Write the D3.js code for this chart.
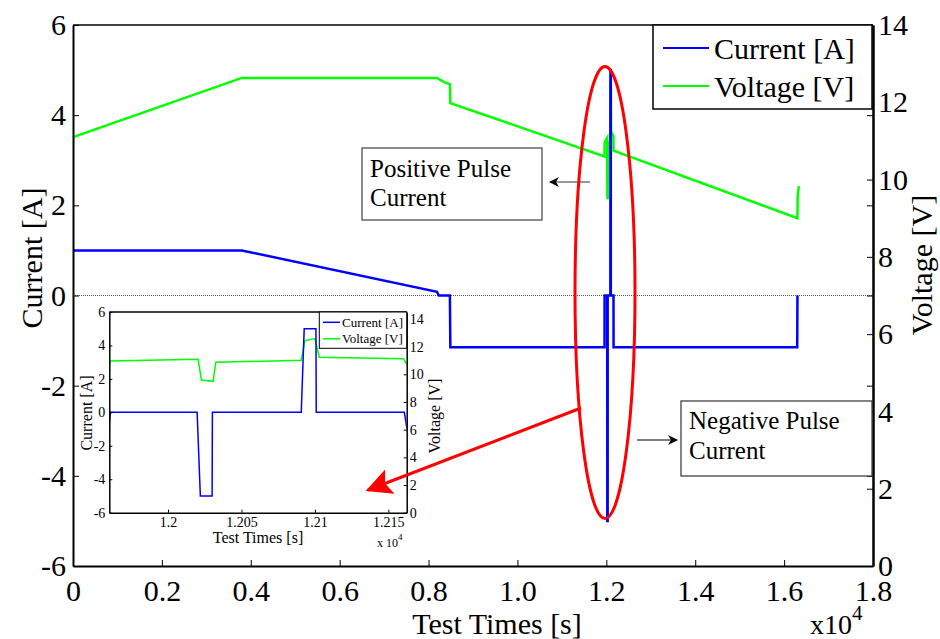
<!DOCTYPE html>
<html>
<head>
<meta charset="utf-8">
<script src="https://cdn.jsdelivr.net/npm/d3@7/dist/d3.min.js"></script>
<style>
body { margin: 0; background: #fff; }
svg text { font-family: "Liberation Serif", "Times New Roman", serif; fill: #000; }
</style>
</head>
<body>
<svg id="chart" width="940" height="639"></svg>
<script>
// time in units of 1e4 s
var currentT = [0, 0.38, 0.819, 0.823, 0.848, 0.849, 1.19595, 1.19607, 1.20198, 1.2022, 1.2030, 1.20302, 1.20907, 1.20927, 1.21007, 1.21009, 1.21609, 1.2163, 1.6295, 1.63];
var currentA = [1, 1, 0.08, 0, 0, -1.15, -1.15, 0, 0, -5, -5, 0, 0, 5, 5, 0, 0, -1.15, -1.15, 0];

var voltageT = [0, 0.38, 0.819, 0.835, 0.848, 0.849, 1.19598, 1.19607, 1.20205, 1.20227, 1.20307, 1.20325, 1.20907, 1.20932, 1.21, 1.2103, 1.21602, 1.21625, 1.63, 1.6305, 1.633];
var voltageV = [11.1, 12.63, 12.63, 12.52, 12.47, 11.98, 10.6, 10.96, 11.08, 9.59, 9.49, 10.87, 11.01, 12.43, 12.58, 11.23, 11.13, 10.75, 9.0, 9.55, 9.83];

var xTicks = [0, 0.2, 0.4, 0.6, 0.8, 1.0, 1.2, 1.4, 1.6, 1.8];
var xTickLabels = ["0", "0.2", "0.4", "0.6", "0.8", "1.0", "1.2", "1.4", "1.6", "1.8"];
var currentTicks = [-6, -4, -2, 0, 2, 4, 6];
var voltageTicks = [0, 2, 4, 6, 8, 10, 12, 14];

var insetXTicks = [1.2, 1.205, 1.21, 1.215];
var insetXTickLabels = ["1.2", "1.205", "1.21", "1.215"];

var seriesNames = ["Current [A]", "Voltage [V]"];
var seriesColors = ["#0000ff", "#00ff00"];

var serif = "'Liberation Serif', 'Times New Roman', serif";
var svg = d3.select("#chart");

var x = d3.scaleLinear().domain([0, 1.8]).range([73, 873]);
var yA = d3.scaleLinear().domain([-6, 6]).range([566, 25]);
var yV = d3.scaleLinear().domain([0, 14]).range([566, 25]);

var curData = currentT.map(function(t, i) { return [t, currentA[i]]; });
var volData = voltageT.map(function(t, i) { return [t, voltageV[i]]; });

var plain = function(d) { return String(d); };

function styleAxis(g, w, fs) {
  g.attr("font-family", serif).attr("font-size", fs || 10);
  g.select(".domain").attr("stroke", "#000").attr("stroke-width", w);
  g.selectAll(".tick line").attr("stroke", "#000").attr("stroke-width", 1);
  g.selectAll("text").style("font-family", serif);
  if (fs) g.selectAll("text").style("font-size", fs + "px");
}

// zero line
svg.append("line")
  .attr("x1", x(0)).attr("x2", x(1.8))
  .attr("y1", yA(0)).attr("y2", yA(0))
  .attr("stroke", "#555").attr("stroke-width", 1)
  .attr("stroke-dasharray", "1,1");

// main lines
var lineA = d3.line().x(function(d) { return x(d[0]); }).y(function(d) { return yA(d[1]); });
var lineV = d3.line().x(function(d) { return x(d[0]); }).y(function(d) { return yV(d[1]); });

svg.append("path").datum(volData).attr("d", lineV)
  .attr("fill", "none").attr("stroke", seriesColors[1]).attr("stroke-width", 2.5);
svg.append("path").datum(curData).attr("d", lineA)
  .attr("fill", "none").attr("stroke", seriesColors[0]).attr("stroke-width", 2.5);

// axes
var gl = svg.append("g").attr("transform", "translate(73,0)")
  .call(d3.axisLeft(yA).tickValues(currentTicks).tickSize(-6).tickSizeOuter(0).tickPadding(7).tickFormat(plain));
styleAxis(gl, 2, 30);

var gr = svg.append("g").attr("transform", "translate(873,0)")
  .call(d3.axisRight(yV).tickValues(voltageTicks).tickSize(-6).tickSizeOuter(0).tickPadding(5).tickFormat(plain));
styleAxis(gr, 2, 30);

var gr2 = svg.append("g").attr("transform", "translate(873,0)")
  .call(d3.axisRight(yA).tickValues(currentTicks).tickSize(-6).tickSizeOuter(0).tickFormat(""));
styleAxis(gr2, 2);

var gb = svg.append("g").attr("transform", "translate(0,566)")
  .call(d3.axisBottom(x).tickValues(xTicks).tickSize(-6).tickSizeOuter(0).tickPadding(14)
    .tickFormat(function(d, i) { return xTickLabels[i]; }));
styleAxis(gb, 2, 30);

svg.append("line").attr("x1", 73).attr("x2", 873).attr("y1", 25).attr("y2", 25)
  .attr("stroke", "#000").attr("stroke-width", 1.5);

// axis titles
svg.append("text").attr("x", 497).attr("y", 634).attr("text-anchor", "middle")
  .style("font-size", "30px").text("Test Times [s]");
var xe = svg.append("text").attr("x", 810).attr("y", 634).style("font-size", "28px");
xe.append("tspan").text("x10");
xe.append("tspan").attr("dy", -14).style("font-size", "21px").text("4");
svg.append("text").attr("transform", "translate(42,258) rotate(-90)").attr("text-anchor", "middle")
  .style("font-size", "30px").text("Current [A]");
svg.append("text").attr("transform", "translate(932,265) rotate(-90)").attr("text-anchor", "middle")
  .style("font-size", "30px").text("Voltage [V]");

// legend
var leg = svg.append("g");
leg.append("rect").attr("x", 653).attr("y", 25).attr("width", 219).attr("height", 84)
  .attr("fill", "#fff").attr("stroke", "#000").attr("stroke-width", 1.5);
seriesNames.forEach(function(n, i) {
  var yy = 48 + i * 38;
  leg.append("line").attr("x1", 663).attr("x2", 709).attr("y1", yy).attr("y2", yy)
    .attr("stroke", seriesColors[i]).attr("stroke-width", 2);
  leg.append("text").attr("x", 714).attr("y", yy + 11).style("font-size", "30px").text(n);
});

// callouts
var defs = svg.append("defs");
defs.append("marker").attr("id", "blk").attr("viewBox", "0 0 10 10").attr("refX", 9).attr("refY", 5)
  .attr("markerWidth", 12).attr("markerHeight", 10).attr("markerUnits", "userSpaceOnUse").attr("orient", "auto")
  .append("path").attr("d", "M0,0 L10,5 L0,10 L3,5 Z").attr("fill", "#000");
defs.append("marker").attr("id", "red").attr("viewBox", "0 0 10 10").attr("refX", 9).attr("refY", 5)
  .attr("markerWidth", 32).attr("markerHeight", 26).attr("markerUnits", "userSpaceOnUse").attr("orient", "auto")
  .append("path").attr("d", "M0,0 L10,5 L0,10 L2,5 Z").attr("fill", "#ff0000");

svg.append("rect").attr("x", 362).attr("y", 148).attr("width", 180).attr("height", 72)
  .attr("fill", "#fff").attr("stroke", "#666").attr("stroke-width", 1.5);
svg.append("text").attr("x", 370).attr("y", 177).style("font-size", "25px").text("Positive Pulse");
svg.append("text").attr("x", 370).attr("y", 206).style("font-size", "25px").text("Current");
svg.append("line").attr("x1", 590).attr("y1", 182).attr("x2", 550).attr("y2", 182)
  .attr("stroke", "#333").attr("stroke-width", 1).attr("marker-end", "url(#blk)");

svg.append("rect").attr("x", 681).attr("y", 401).attr("width", 191).attr("height", 75)
  .attr("fill", "#fff").attr("stroke", "#333").attr("stroke-width", 1.2);
svg.append("text").attr("x", 689).attr("y", 429).style("font-size", "25px").text("Negative Pulse");
svg.append("text").attr("x", 689).attr("y", 459).style("font-size", "25px").text("Current");
svg.append("line").attr("x1", 637).attr("y1", 440).attr("x2", 677).attr("y2", 440)
  .attr("stroke", "#000").attr("stroke-width", 1).attr("marker-end", "url(#blk)");

// inset
var xi = d3.scaleLinear().domain([1.196, 1.21625]).range([109.3, 406.7]);
var yiA = d3.scaleLinear().domain([-6, 6]).range([512.7, 312]);
var yiV = d3.scaleLinear().domain([0, 14.5]).range([512.7, 312]);

var inset = svg.append("g");
inset.append("rect").attr("x", 109.3).attr("y", 312).attr("width", 297.4).attr("height", 200.7)
  .attr("fill", "#fff");
defs.append("clipPath").attr("id", "insetClip").append("rect")
  .attr("x", 109.3).attr("y", 312).attr("width", 297.4).attr("height", 200.7);

var lineIA = d3.line().x(function(d) { return xi(d[0]); }).y(function(d) { return yiA(d[1]); });
var lineIV = d3.line().x(function(d) { return xi(d[0]); }).y(function(d) { return yiV(d[1]); });
var clipG = inset.append("g").attr("clip-path", "url(#insetClip)");
clipG.append("path").datum(volData).attr("d", lineIV)
  .attr("fill", "none").attr("stroke", seriesColors[1]).attr("stroke-width", 1.5);
clipG.append("path").datum(curData).attr("d", lineIA)
  .attr("fill", "none").attr("stroke", seriesColors[0]).attr("stroke-width", 1.5);

var il = inset.append("g").attr("transform", "translate(109.3,0)")
  .call(d3.axisLeft(yiA).tickValues(currentTicks).tickSize(-3).tickSizeOuter(0).tickPadding(4).tickFormat(plain));
styleAxis(il, 1.5, 14);
var ir = inset.append("g").attr("transform", "translate(406.7,0)")
  .call(d3.axisRight(yiV).tickValues(voltageTicks).tickSize(-3).tickSizeOuter(0).tickPadding(3).tickFormat(plain));
styleAxis(ir, 1.5, 14);
var ib = inset.append("g").attr("transform", "translate(0,512.7)")
  .call(d3.axisBottom(xi).tickValues(insetXTicks).tickSize(-3).tickSizeOuter(0).tickPadding(4)
    .tickFormat(function(d, i) { return insetXTickLabels[i]; }));
styleAxis(ib, 1.5, 14);
inset.append("line").attr("x1", 109.3).attr("x2", 406.7).attr("y1", 312).attr("y2", 312)
  .attr("stroke", "#000").attr("stroke-width", 1.5);

inset.append("text").attr("x", 258).attr("y", 543).attr("text-anchor", "middle")
  .style("font-size", "16px").text("Test Times [s]");
var ie = inset.append("text").attr("x", 377).attr("y", 547).style("font-size", "12px");
ie.append("tspan").text("x 10");
ie.append("tspan").attr("dy", -7).style("font-size", "9px").text("4");
inset.append("text").attr("transform", "translate(92,413) rotate(-90)").attr("text-anchor", "middle")
  .style("font-size", "16px").text("Current [A]");
inset.append("text").attr("transform", "translate(440,416) rotate(-90)").attr("text-anchor", "middle")
  .style("font-size", "16px").text("Voltage [V]");

var ileg = inset.append("g");
ileg.append("rect").attr("x", 319.3).attr("y", 312).attr("width", 87.4).attr("height", 36.3)
  .attr("fill", "#fff").attr("stroke", "#000").attr("stroke-width", 1);
seriesNames.forEach(function(n, i) {
  var yy = 322.3 + i * 16.5;
  ileg.append("line").attr("x1", 323).attr("x2", 340).attr("y1", yy).attr("y2", yy)
    .attr("stroke", seriesColors[i]).attr("stroke-width", 1.5);
  ileg.append("text").attr("x", 342).attr("y", yy + 4.5).style("font-size", "13px").text(n);
});

// red ellipse and arrow
svg.append("ellipse").attr("cx", 605).attr("cy", 292.5).attr("rx", 30).attr("ry", 226)
  .attr("fill", "none").attr("stroke", "#ff0000").attr("stroke-width", 3);
svg.append("line").attr("x1", 581).attr("y1", 408).attr("x2", 368).attr("y2", 490)
  .attr("stroke", "#ff0000").attr("stroke-width", 3).attr("marker-end", "url(#red)");
</script>
</body>
</html>
